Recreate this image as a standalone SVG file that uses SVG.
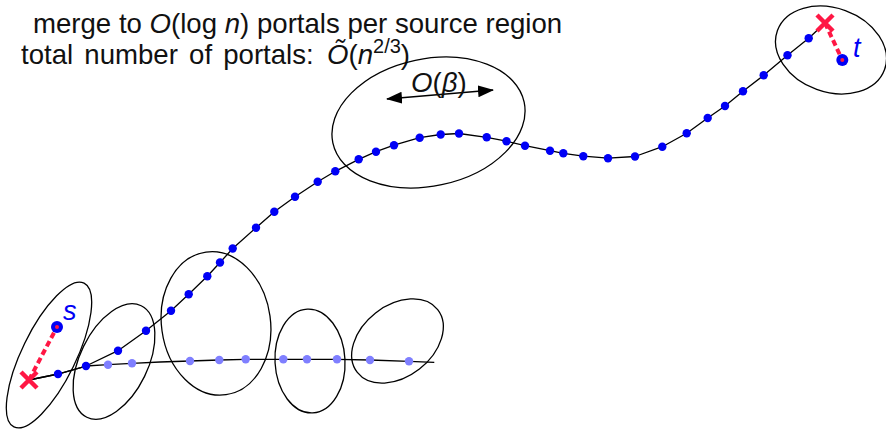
<svg xmlns="http://www.w3.org/2000/svg" width="886" height="429" viewBox="0 0 886 429">
<defs>
<style>
.txt{font-family:"Liberation Sans","DejaVu Sans",sans-serif;font-size:27.6px;fill:#111}
.it{font-style:italic}
.region{fill:none;stroke:#000;stroke-width:1.3}
.path{fill:none;stroke:#000;stroke-width:1.3;stroke-linejoin:round}
.p{fill:#0000f5}
.pl{fill:#7f7fff}
.red{stroke:#ff1744;fill:none}
.lbl{font-family:"Liberation Sans","DejaVu Sans",sans-serif;font-style:italic;font-size:27px;fill:#0000f5}
</style>
<marker id="ah" viewBox="0 0 16 12" refX="15" refY="6" markerWidth="16" markerHeight="12" markerUnits="userSpaceOnUse" orient="auto-start-reverse">
<path d="M0,0 L16,6 L0,12 z" fill="#000"/>
</marker>
</defs>
<rect width="886" height="429" fill="#fff"/>

<g id="title">
<text class="txt" x="33" y="33">merge to <tspan class="it">O</tspan>(log <tspan class="it">n</tspan>) portals per source region</text>
<text class="txt" x="21" y="64"><tspan word-spacing="3.5">total number of portals: </tspan><tspan class="it" x="327">Õ</tspan>(<tspan class="it">n</tspan><tspan font-size="20" dy="-11">2/3</tspan><tspan dy="11">)</tspan></text>
</g>

<g id="regions">
<g id="region-s"><ellipse class="region" cx="49" cy="355" rx="27" ry="80" transform="rotate(26 49 355)"/></g>
<g id="region-2"><ellipse class="region" cx="114" cy="361.5" rx="34" ry="62" transform="rotate(26 114 361.5)"/></g>
<g id="region-3"><ellipse class="region" cx="216" cy="323.4" rx="54.5" ry="72" transform="rotate(-8 216 323.4)"/></g>
<g id="region-4"><ellipse class="region" cx="310" cy="361" rx="35" ry="52" transform="rotate(-3 310 361)"/></g>
<g id="region-5"><ellipse class="region" cx="397.5" cy="341" rx="51" ry="35.6" transform="rotate(-38 397.5 341)"/></g>
<g id="region-big"><ellipse class="region" cx="428.5" cy="122.5" rx="97.8" ry="63.6" transform="rotate(-12 428.5 122.5)"/></g>
<g id="region-t"><ellipse class="region" cx="831" cy="50" rx="57" ry="42" transform="rotate(20 831 50)"/></g>
</g>

<g id="connectors">
<polyline class="path" points="29,380 58,374 86,366 118,350.7 146,330.7 171,310.7 188.7,294.3 207.3,276.3 220,262.5 232.7,248.5 256,227.7 274.3,211.7 295,196.7 317.7,181.7 335.3,171.3 358.7,159.3 376,151.7 394,145.2 419.7,137.7 440.7,134.5 459,133.5 486.7,137.3 506.5,141.2 525,145.7 550,150.7 563.3,153.3 583.3,156.2 608,158.2 635,156.5 662.3,146.7 686.7,133.3 707.7,118 725,106 743,91.3 763.7,75.3 787.5,55.2 808.7,38.3 825,23"/>
<polyline class="path" points="29,380 58,374 86,366 108,364.7 132,363.3 160,362 190,361 219.3,360 245.7,359.3 283.3,359.3 307,359.3 337,359.3 370,360 409,361.3 434.3,362.3"/>
<line class="red" x1="29" y1="380" x2="57" y2="327" stroke-width="4" stroke-dasharray="6 3.5"/>
<line class="red" x1="825" y1="23" x2="842.3" y2="60" stroke-width="4" stroke-dasharray="6 3.5"/>
<line x1="387" y1="99" x2="493" y2="90" stroke="#000" stroke-width="1.3" marker-start="url(#ah)" marker-end="url(#ah)"/>
</g>

<g id="portals-light">
<circle class="pl" cx="108" cy="364.7" r="4.2"/>
<circle class="pl" cx="132" cy="363.3" r="4.2"/>
<circle class="pl" cx="190" cy="361" r="4.2"/>
<circle class="pl" cx="219.3" cy="360" r="4.2"/>
<circle class="pl" cx="245.7" cy="359.3" r="4.2"/>
<circle class="pl" cx="283.3" cy="359.3" r="4.2"/>
<circle class="pl" cx="307" cy="359.3" r="4.2"/>
<circle class="pl" cx="337" cy="359.3" r="4.2"/>
<circle class="pl" cx="370" cy="360" r="4.2"/>
<circle class="pl" cx="409" cy="361.3" r="4.2"/>
</g>

<g id="portals">
<circle class="p" cx="58" cy="374" r="4.2"/>
<circle class="p" cx="86" cy="366" r="4.2"/>
<circle class="p" cx="118" cy="350.7" r="4.2"/>
<circle class="p" cx="146" cy="330.7" r="4.2"/>
<circle class="p" cx="171" cy="310.7" r="4.2"/>
<circle class="p" cx="188.7" cy="294.3" r="4.2"/>
<circle class="p" cx="207.3" cy="276.3" r="4.2"/>
<circle class="p" cx="220" cy="262.5" r="4.2"/>
<circle class="p" cx="232.7" cy="248.5" r="4.2"/>
<circle class="p" cx="256" cy="227.7" r="4.2"/>
<circle class="p" cx="274.3" cy="211.7" r="4.2"/>
<circle class="p" cx="295" cy="196.7" r="4.2"/>
<circle class="p" cx="317.7" cy="181.7" r="4.2"/>
<circle class="p" cx="335.3" cy="171.3" r="4.2"/>
<circle class="p" cx="358.7" cy="159.3" r="4.2"/>
<circle class="p" cx="376" cy="151.7" r="4.2"/>
<circle class="p" cx="394" cy="145.2" r="4.2"/>
<circle class="p" cx="419.7" cy="137.7" r="4.2"/>
<circle class="p" cx="440.7" cy="134.5" r="4.2"/>
<circle class="p" cx="459" cy="133.5" r="4.2"/>
<circle class="p" cx="486.7" cy="137.3" r="4.2"/>
<circle class="p" cx="506.5" cy="141.2" r="4.2"/>
<circle class="p" cx="525" cy="145.7" r="4.2"/>
<circle class="p" cx="550" cy="150.7" r="4.2"/>
<circle class="p" cx="563.3" cy="153.3" r="4.2"/>
<circle class="p" cx="583.3" cy="156.2" r="4.2"/>
<circle class="p" cx="608" cy="158.2" r="4.2"/>
<circle class="p" cx="635" cy="156.5" r="4.2"/>
<circle class="p" cx="662.3" cy="146.7" r="4.2"/>
<circle class="p" cx="686.7" cy="133.3" r="4.2"/>
<circle class="p" cx="707.7" cy="118" r="4.2"/>
<circle class="p" cx="725" cy="106" r="4.2"/>
<circle class="p" cx="743" cy="91.3" r="4.2"/>
<circle class="p" cx="763.7" cy="75.3" r="4.2"/>
<circle class="p" cx="787.5" cy="55.2" r="4.2"/>
<circle class="p" cx="808.7" cy="38.3" r="4.2"/>
</g>

<g id="node-s">
<circle class="p" cx="57" cy="327" r="6"/>
<circle cx="57" cy="327" r="2" fill="#ff1744"/>
<text class="lbl" x="63" y="320">s</text>
</g>
<g id="node-t">
<circle class="p" cx="842.3" cy="60" r="6"/>
<circle cx="842.3" cy="60" r="2" fill="#ff1744"/>
<text class="lbl" x="853" y="57">t</text>
</g>
<g id="cross-s">
<path class="red" d="M21,372 L37,388 M37,372 L21,388" stroke-width="4.5"/>
</g>
<g id="cross-t">
<path class="red" d="M817,15 L833,31 M833,15 L817,31" stroke-width="4.5"/>
</g>

<g id="beta-label">
<text class="txt" x="411" y="92" font-size="29"><tspan class="it">O</tspan>(<tspan class="it">β</tspan>)</text>
</g>
</svg>
